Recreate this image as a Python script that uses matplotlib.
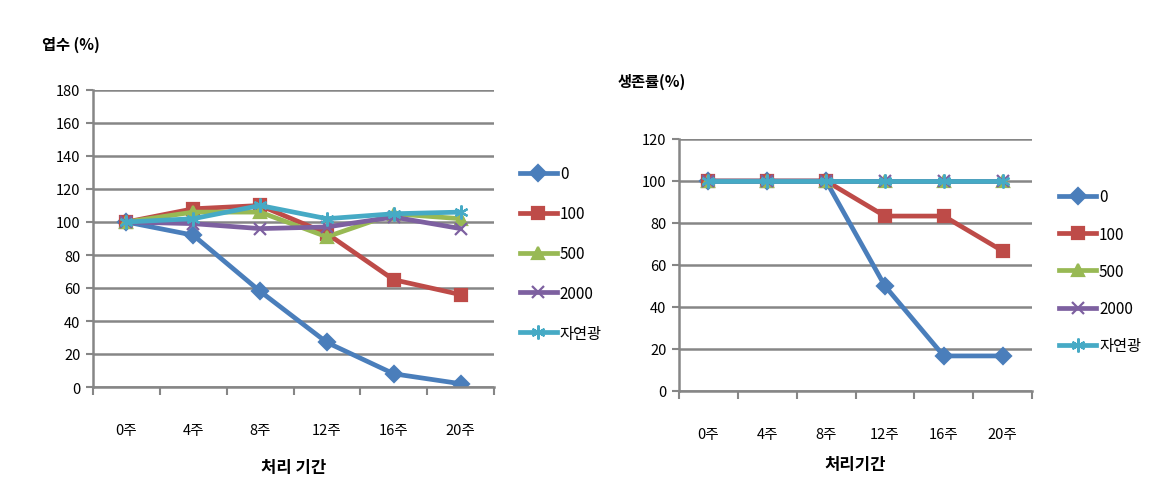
import numpy as np
import matplotlib
matplotlib.use("Agg")
import matplotlib.pyplot as plt

plt.rcParams['font.family'] = ['Noto Sans CJK KR', 'DejaVu Sans']

weeks = ['0주', '4주', '8주', '12주', '16주', '20주']
series_names = ['0', '100', '500', '2000', '자연광']

# left: 엽수 (%)
leaf = {
    '0': [100, 92, 58, 27, 8, 2],
    '100': [100, 108, 110, 93, 65, 56],
    '500': [100, 106, 106, 91, 105, 102],
    '2000': [100, 99, 96, 97, 103, 96],
    '자연광': [100, 102, 110, 102, 105, 106],
}
# right: 생존률(%)
surv = {
    '0': [100, 100, 100, 50, 16.7, 16.7],
    '100': [100, 100, 100, 83.3, 83.3, 66.7],
    '500': [100, 100, 100, 100, 100, 100],
    '2000': [100, 100, 100, 100, 100, 100],
    '자연광': [100, 100, 100, 100, 100, 100],
}

colors = ['#4A7EBB', '#BE4B48', '#98B954', '#7D60A0', '#46AAC5']
markers = ['D', 's', '^', 'x', (6, 2, 0)]
msizes = [8, 9, 9, 9, 10]
grid_c = '#868686'

W, H = 1152, 489
fig = plt.figure(figsize=(W / 100, H / 100), dpi=100)


def make_ax(rect, data, ymax, title, title_xy, xlabel, xlabel_y, leg_anchor, leg_space):
    l, t, r, b = rect
    ax = fig.add_axes([l / W, 1 - b / H, (r - l) / W, (b - t) / H])
    x = np.arange(len(weeks))
    for i, name in enumerate(series_names):
        ax.plot(x, data[name], color=colors[i], lw=3.4, marker=markers[i],
                ms=msizes[i], mew=1.6, mec=colors[i], label=name,
                solid_joinstyle='round')
    ax.set_xlim(-0.5, len(weeks) - 0.5)
    ax.set_ylim(0, ymax)
    ax.set_yticks(np.arange(0, ymax + 1, 20))
    ax.yaxis.grid(True, color=grid_c, lw=1.8)
    ax.set_axisbelow(True)
    for s in ['top', 'right']:
        ax.spines[s].set_visible(False)
    for s in ['left', 'bottom']:
        ax.spines[s].set_color(grid_c)
        ax.spines[s].set_linewidth(1.8)
    ax.set_xticks(np.arange(-0.5, len(weeks), 1.0))
    ax.set_xticklabels([])
    ax.set_xticks(x, minor=True)
    ax.set_xticklabels(weeks, minor=True, fontsize=10.5)
    ax.tick_params(axis='x', which='major', length=6, width=1.5, color=grid_c, direction='out')
    ax.tick_params(axis='x', which='minor', length=0, pad=26)
    ax.tick_params(axis='y', length=5, width=1.5, color=grid_c, labelsize=10.5, pad=4)
    fig.text(title_xy[0] / W, 1 - title_xy[1] / H, title, fontsize=11, fontweight='bold',
             ha='left', va='center')
    fig.text((l + r) / 2 / W, 1 - xlabel_y / H, xlabel, fontsize=12, fontweight='bold',
             ha='center', va='center')
    ax.legend(loc='center left', bbox_to_anchor=leg_anchor, frameon=False,
              fontsize=11, handlelength=2.4, labelspacing=leg_space,
              handletextpad=0.2, borderaxespad=0)
    return ax


make_ax((93, 91, 494, 388), leaf, 180, '엽수 (%)', (42, 45), '처리 기간', 468,
        (1.05, 0.45), 1.5)
make_ax((679, 140, 1032, 392), surv, 120, '생존률(%)', (618, 82), '처리기간', 465,
        (1.06, 0.475), 1.32)

fig.savefig('out.png', dpi=100)
